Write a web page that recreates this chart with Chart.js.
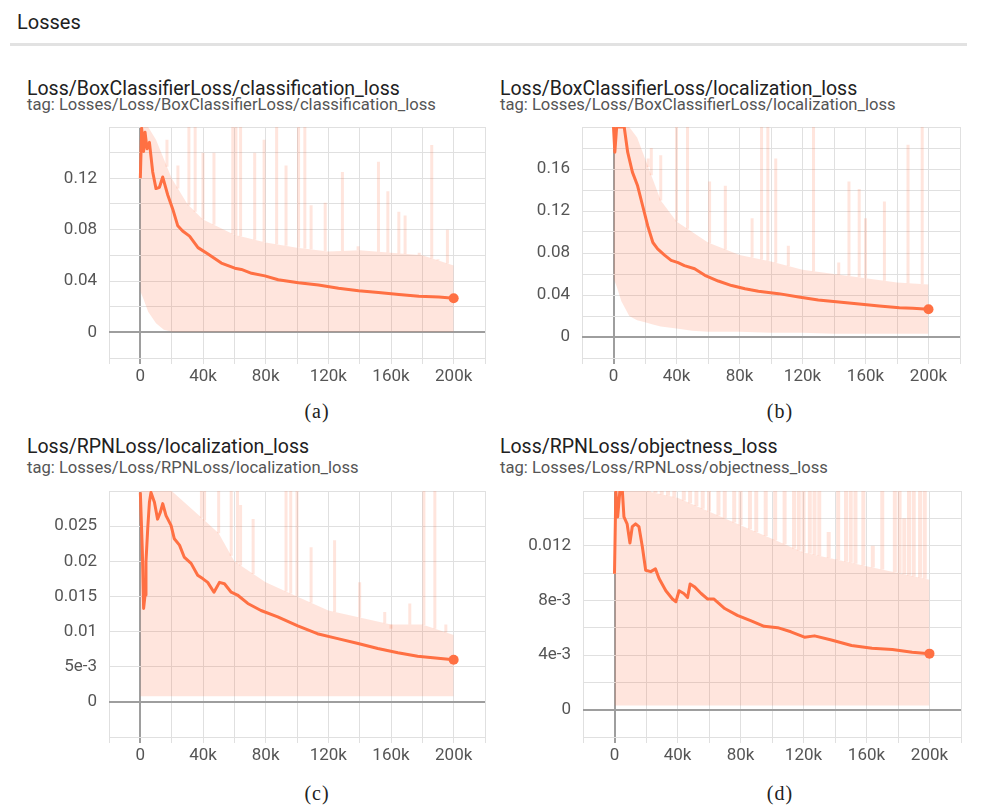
<!DOCTYPE html>
<html>
<head>
<meta charset="utf-8">
<script src="https://cdn.jsdelivr.net/npm/chart.js@4.4.1/dist/chart.umd.min.js"></script>
<style>
    body { margin: 0; background: #fff; width: 985px; height: 811px; position: relative; overflow: hidden; font-family: Roboto, "Noto Sans", sans-serif; }
    .abs { position: absolute; white-space: nowrap; }
    .header { left: 17px; top: 11px; font-size: 20px; line-height: 22px; color: #212121; }
    .rule { position: absolute; left: 10px; top: 43px; width: 957px; height: 3px; background: #e2e2e2; }
    .title { font-size: 19.5px; line-height: 22px; color: #212121; }
    .tag { font-size: 16.6px; line-height: 18px; color: #555; }
    .caption { font-family: "Liberation Serif", "DejaVu Serif", serif; font-size: 20px; line-height: 22px; color: #222; transform: translateX(-50%); letter-spacing: 1px; }
    canvas { position: absolute; }
</style>
</head>
<body>
<div class="abs header">Losses</div>
<div class="rule"></div>

<div class="abs title" style="left:27px; top:78px;">Loss/BoxClassifierLoss/classification_loss</div>
<div class="abs tag" style="left:27px; top:96px;">tag: Losses/Loss/BoxClassifierLoss/classification_loss</div>
<div class="abs title" style="left:500px; top:78px;">Loss/BoxClassifierLoss/localization_loss</div>
<div class="abs tag" style="left:500px; top:96px;">tag: Losses/Loss/BoxClassifierLoss/localization_loss</div>
<div class="abs title" style="left:27px; top:436px;">Loss/RPNLoss/localization_loss</div>
<div class="abs tag" style="left:27px; top:459px;">tag: Losses/Loss/RPNLoss/localization_loss</div>
<div class="abs title" style="left:500px; top:436px;">Loss/RPNLoss/objectness_loss</div>
<div class="abs tag" style="left:500px; top:459px;">tag: Losses/Loss/RPNLoss/objectness_loss</div>

<canvas id="chart-a" width="470" height="276" style="left:20px; top:119px;"></canvas>
<canvas id="chart-b" width="472" height="276" style="left:493px; top:119px;"></canvas>
<canvas id="chart-c" width="470" height="290" style="left:20px; top:483px;"></canvas>
<canvas id="chart-d" width="472" height="290" style="left:494px; top:483px;"></canvas>

<div class="abs caption" style="left:317px; top:400px;">(a)</div>
<div class="abs caption" style="left:780px; top:400px;">(b)</div>
<div class="abs caption" style="left:317px; top:782px;">(c)</div>
<div class="abs caption" style="left:780px; top:782px;">(d)</div>

<script>
// x axis (training steps), shared by all four panels
const xTickValues = [0, 40000, 80000, 120000, 160000, 200000];
const xTickLabels = ['0', '40k', '80k', '120k', '160k', '200k'];

// (a) BoxClassifierLoss/classification_loss
const stepsA = [0, 850, 2100, 3000, 4300, 5800, 7900, 10000, 12200, 14300, 17500, 20700, 23900, 27000, 31400, 36800, 43200, 51700, 60300, 64500, 71000, 79500, 88000, 100900, 113700, 126500, 139300, 152000, 165000, 177800, 190600, 200000];
const smoothA = [0.12, 0.159, 0.141, 0.156, 0.143, 0.148, 0.125, 0.112, 0.113, 0.121, 0.107, 0.096, 0.083, 0.079, 0.075, 0.066, 0.061, 0.054, 0.050, 0.049, 0.046, 0.044, 0.041, 0.0387, 0.0369, 0.0343, 0.0324, 0.031, 0.0295, 0.0282, 0.0275, 0.0266];
const bandXA = [0, 2000, 5000, 10000, 15000, 20000, 30000, 40000, 60000, 80000, 100000, 120000, 140000, 160000, 180000, 200000];
const bandHighA = [0.16, 0.16, 0.16, 0.15, 0.135, 0.12, 0.1, 0.088, 0.076, 0.07, 0.066, 0.063, 0.064, 0.062, 0.06, 0.052];
const bandLowA = [0.032, 0.026, 0.016, 0.007, 0.002, 0.0005, 0.0005, 0.0005, 0.0005, 0.0005, 0.0005, 0.0005, 0.0005, 0.0005, 0.0005, 0.0005];
const spikeXA = [17000, 24000, 31000, 35000, 40000, 47000, 59000, 61000, 64000, 73000, 79000, 87000, 93000, 101000, 105000, 109000, 118000, 129000, 139000, 152000, 158000, 165000, 169000, 178000, 186000, 190000, 196000];
const spikeTopA = [0.15, 0.13, 0.16, 0.16, 0.14, 0.14, 0.16, 0.16, 0.16, 0.14, 0.15, 0.16, 0.13, 0.16, 0.16, 0.099, 0.101, 0.125, 0.067, 0.133, 0.11, 0.094, 0.091, 0.062, 0.146, 0.057, 0.08];
const yTicksA = [0, 0.04, 0.08, 0.12];
const yLabelsA = ['0', '0.04', '0.08', '0.12'];

// (b) BoxClassifierLoss/localization_loss
const stepsB = [0, 850, 2000, 6800, 9000, 12000, 15300, 18500, 21700, 25000, 28000, 32400, 36600, 41000, 45000, 51500, 58000, 66500, 75000, 83500, 92000, 104800, 117600, 130000, 143000, 156000, 168700, 181500, 190000, 200000];
const smoothB = [0.2, 0.176, 0.2, 0.2, 0.176, 0.157, 0.144, 0.125, 0.106, 0.09, 0.084, 0.078, 0.073, 0.0708, 0.068, 0.065, 0.0587, 0.0533, 0.049, 0.046, 0.0435, 0.0413, 0.038, 0.0352, 0.0333, 0.0314, 0.0295, 0.0279, 0.0273, 0.0265];
const bandXB = [0, 2000, 5000, 10000, 15000, 20000, 25000, 30000, 40000, 50000, 60000, 80000, 100000, 120000, 140000, 160000, 180000, 200000];
const bandHighB = [0.2, 0.2, 0.2, 0.2, 0.19, 0.17, 0.15, 0.13, 0.11, 0.1, 0.09, 0.078, 0.072, 0.064, 0.06, 0.056, 0.052, 0.05];
const bandLowB = [0.056, 0.048, 0.034, 0.02, 0.016, 0.014, 0.012, 0.01, 0.008, 0.006, 0.005, 0.005, 0.004, 0.004, 0.003, 0.003, 0.003, 0.003];
const spikeXB = [22000, 24000, 30000, 40000, 47000, 61000, 71000, 88000, 94000, 98000, 103000, 111000, 127000, 143000, 149500, 156000, 160000, 172000, 187000, 196000];
const spikeTopB = [0.17, 0.18, 0.173, 0.2, 0.2, 0.148, 0.144, 0.113, 0.2, 0.2, 0.17, 0.087, 0.2, 0.071, 0.148, 0.141, 0.113, 0.129, 0.183, 0.2];
const yTicksB = [0, 0.04, 0.08, 0.12, 0.16];
const yLabelsB = ['0', '0.04', '0.08', '0.12', '0.16'];

// (c) RPNLoss/localization_loss
const stepsC = [0, 1300, 2100, 3000, 3600, 4700, 5800, 6800, 9000, 11000, 12800, 14300, 16400, 19600, 21700, 25000, 28000, 32400, 36600, 40000, 43000, 47000, 50500, 53700, 58000, 62000, 68600, 77000, 87700, 100500, 113000, 126000, 139000, 151600, 164400, 177000, 190000, 200000];
const smoothC = [0.0298, 0.0213, 0.0133, 0.0152, 0.0199, 0.0246, 0.0284, 0.0298, 0.0284, 0.026, 0.027, 0.0282, 0.0265, 0.0251, 0.0232, 0.0223, 0.0206, 0.0197, 0.018, 0.0175, 0.017, 0.0156, 0.017, 0.0168, 0.0156, 0.0152, 0.014, 0.013, 0.0121, 0.0108, 0.0097, 0.009, 0.0083, 0.0076, 0.007, 0.0065, 0.0062, 0.006];
const bandXC = [0, 2000, 5000, 10000, 20000, 30000, 40000, 50000, 60000, 80000, 100000, 120000, 140000, 160000, 180000, 200000];
const bandHighC = [0.03, 0.03, 0.03, 0.03, 0.03, 0.028, 0.026, 0.024, 0.02, 0.017, 0.015, 0.013, 0.012, 0.011, 0.011, 0.0095];
const bandLowC = [0.0008, 0.0008, 0.0008, 0.0008, 0.0008, 0.0008, 0.0008, 0.0008, 0.0008, 0.0008, 0.0008, 0.0008, 0.0008, 0.0008, 0.0008, 0.0008];
const spikeXC = [39000, 41000, 50000, 58000, 62000, 64000, 72000, 93000, 96000, 100000, 109000, 124000, 140000, 156000, 160000, 172000, 181000, 188000, 195000];
const spikeTopC = [0.03, 0.03, 0.03, 0.03, 0.03, 0.028, 0.026, 0.03, 0.03, 0.03, 0.022, 0.023, 0.017, 0.0128, 0.0104, 0.014, 0.03, 0.03, 0.011];
const yTicksC = [0, 0.005, 0.01, 0.015, 0.02, 0.025];
const yLabelsC = ['0', '5e-3', '0.01', '0.015', '0.02', '0.025'];

// (d) RPNLoss/objectness_loss
const stepsD = [0, 850, 2000, 3400, 5000, 6000, 8000, 9800, 11300, 13400, 15500, 17700, 19800, 23000, 26000, 28300, 32600, 36800, 39000, 41000, 44000, 46400, 48000, 50700, 55000, 59000, 63000, 70000, 78000, 86800, 95000, 103600, 112000, 120600, 127000, 137700, 150500, 163500, 176400, 189000, 200000];
const smoothD = [0.00995, 0.016, 0.0141, 0.016, 0.016, 0.0141, 0.0136, 0.0122, 0.0134, 0.0136, 0.0134, 0.0119, 0.0102, 0.0101, 0.0103, 0.0096, 0.0087, 0.0081, 0.0079, 0.0087, 0.0085, 0.0082, 0.0092, 0.009, 0.0085, 0.0081, 0.0081, 0.0074, 0.0069, 0.0065, 0.0061, 0.006, 0.0057, 0.0053, 0.0054, 0.0051, 0.0047, 0.0045, 0.0044, 0.0042, 0.0041];
const bandXD = [0, 5000, 10000, 20000, 40000, 60000, 80000, 100000, 120000, 140000, 160000, 180000, 200000];
const bandHighD = [0.016, 0.016, 0.016, 0.016, 0.0155, 0.0145, 0.0135, 0.0125, 0.0115, 0.011, 0.0105, 0.01, 0.0095];
const bandLowD = [0.0003, 0.0003, 0.0003, 0.0003, 0.0003, 0.0003, 0.0003, 0.0003, 0.0003, 0.0003, 0.0003, 0.0003, 0.0003];
const spikeXD = [22000, 26000, 30000, 34000, 38000, 44000, 48000, 52000, 56000, 60000, 66000, 70000, 76000, 80000, 86000, 90000, 96000, 102000, 108000, 114000, 117000, 120000, 124000, 127000, 130000, 136000, 142000, 147000, 150000, 153000, 158000, 164000, 170000, 178000, 181000, 184000, 187000, 190000, 194000, 197000];
const spikeTopD = [0.016, 0.016, 0.016, 0.016, 0.016, 0.016, 0.016, 0.016, 0.016, 0.016, 0.016, 0.016, 0.016, 0.016, 0.016, 0.016, 0.016, 0.016, 0.016, 0.016, 0.016, 0.016, 0.016, 0.016, 0.016, 0.013, 0.016, 0.016, 0.016, 0.016, 0.016, 0.012, 0.016, 0.016, 0.016, 0.014, 0.016, 0.016, 0.016, 0.016];
const yTicksD = [0, 0.004, 0.008, 0.012];
const yLabelsD = ['0', '4e-3', '8e-3', '0.012'];

const LINE_COLOR = '#ff7043';
const RAW_COLOR = 'rgba(255, 112, 67, 0.18)';
const GRID_COLOR = '#e0e0e0';
const ZERO_COLOR = '#9e9e9e';

/**
 * Looks up the band top under a spike so the spike starts where the band ends
 */
function bandAt(xs, ys, x) {
    for (let i = 1; i < xs.length; i++) {
        if (x <= xs[i]) {
            const t = (x - xs[i - 1]) / (xs[i] - xs[i - 1]);
            return ys[i - 1] + t * (ys[i] - ys[i - 1]);
        }
    }
    return ys[ys.length - 1];
}

function labelFor(values, labels, v) {
    const i = values.findIndex(t => Math.abs(t - v) < 1e-9);
    return i >= 0 ? labels[i] : '';
}

function makeChart(id, p) {
    const smooth = p.steps.map((x, i) => ({ x: x, y: p.smooth[i] }));
    const high = p.bandX.map((x, i) => ({ x: x, y: p.bandHigh[i] }));
    const low = p.bandX.map((x, i) => ({ x: x, y: p.bandLow[i] }));
    const spikes = [];
    p.spikeX.forEach((x, i) => {
        spikes.push({ x: x, y: bandAt(p.bandX, p.bandHigh, x) });
        spikes.push({ x: x, y: p.spikeTop[i] });
        spikes.push({ x: x, y: null });
    });
    const radii = smooth.map((_, i) => i === smooth.length - 1 ? 5 : 0);

    const gridColor = ctx => Math.abs(ctx.tick.value) < 1e-12 ? ZERO_COLOR : GRID_COLOR;
    const gridWidth = ctx => Math.abs(ctx.tick.value) < 1e-12 ? 2 : 1;

    return new Chart(document.getElementById(id), {
        type: 'line',
        data: {
            datasets: [
                {
                    data: smooth,
                    borderColor: LINE_COLOR,
                    backgroundColor: LINE_COLOR,
                    borderWidth: 3,
                    pointRadius: radii,
                    pointBorderWidth: 0,
                    tension: 0,
                    borderJoinStyle: 'round',
                    fill: false
                },
                {
                    data: spikes,
                    borderColor: RAW_COLOR,
                    borderWidth: p.spikeWidth,
                    pointRadius: 0,
                    spanGaps: false,
                    fill: false
                },
                {
                    data: high,
                    borderWidth: 0,
                    pointRadius: 0,
                    backgroundColor: RAW_COLOR,
                    fill: '+1'
                },
                {
                    data: low,
                    borderWidth: 0,
                    pointRadius: 0,
                    fill: false
                }
            ]
        },
        options: {
            responsive: false,
            animation: false,
            layout: { padding: { top: 8, right: 5, left: 0, bottom: 0 } },
            plugins: { legend: { display: false }, tooltip: { enabled: false } },
            scales: {
                x: {
                    type: 'linear',
                    min: -20000,
                    max: 220000,
                    afterFit: s => { s.height = p.xHeight; s.paddingLeft = 0; s.paddingRight = 0; },
                    border: { display: false },
                    grid: { color: gridColor, lineWidth: gridWidth, drawTicks: true, tickLength: 6 },
                    ticks: {
                        stepSize: 20000,
                        autoSkip: false,
                        maxRotation: 0,
                        padding: 3,
                        color: '#555',
                        font: { family: 'Roboto', size: 17 },
                        callback: v => labelFor(xTickValues, xTickLabels, v)
                    }
                },
                y: {
                    min: p.yMin,
                    max: p.yMax,
                    afterFit: s => { s.width = 89; s.paddingTop = 0; s.paddingBottom = 0; },
                    border: { display: false },
                    grid: { color: gridColor, lineWidth: gridWidth, drawTicks: false },
                    ticks: {
                        stepSize: p.yStep,
                        autoSkip: false,
                        padding: 12,
                        color: '#555',
                        font: { family: 'Roboto', size: 17 },
                        callback: v => labelFor(p.yTicks, p.yLabels, v)
                    }
                }
            }
        }
    });
}

makeChart('chart-a', {
    steps: stepsA, smooth: smoothA, bandX: bandXA, bandHigh: bandHighA, bandLow: bandLowA,
    spikeX: spikeXA, spikeTop: spikeTopA, spikeWidth: 3,
    yMin: -0.02, yMax: 0.16, yStep: 0.02, yTicks: yTicksA, yLabels: yLabelsA, xHeight: 37
});
makeChart('chart-b', {
    steps: stepsB, smooth: smoothB, bandX: bandXB, bandHigh: bandHighB, bandLow: bandLowB,
    spikeX: spikeXB, spikeTop: spikeTopB, spikeWidth: 3,
    yMin: -0.02, yMax: 0.2, yStep: 0.02, yTicks: yTicksB, yLabels: yLabelsB, xHeight: 37
});
makeChart('chart-c', {
    steps: stepsC, smooth: smoothC, bandX: bandXC, bandHigh: bandHighC, bandLow: bandLowC,
    spikeX: spikeXC, spikeTop: spikeTopC, spikeWidth: 3,
    yMin: -0.005, yMax: 0.03, yStep: 0.005, yTicks: yTicksC, yLabels: yLabelsC, xHeight: 36
});
makeChart('chart-d', {
    steps: stepsD, smooth: smoothD, bandX: bandXD, bandHigh: bandHighD, bandLow: bandLowD,
    spikeX: spikeXD, spikeTop: spikeTopD, spikeWidth: 4,
    yMin: -0.002, yMax: 0.016, yStep: 0.002, yTicks: yTicksD, yLabels: yLabelsD, xHeight: 36
});
</script>
</body>
</html>
